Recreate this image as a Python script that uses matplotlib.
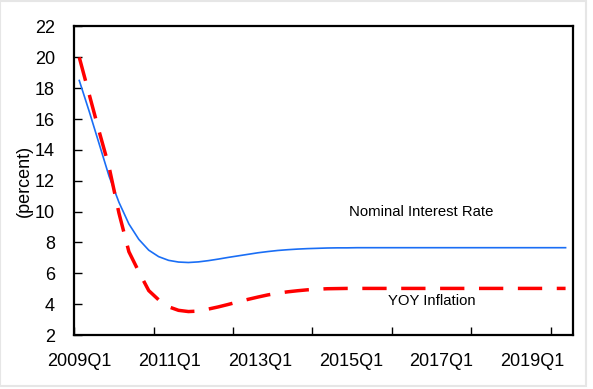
import numpy as np
import matplotlib
matplotlib.use('Agg')
import matplotlib.pyplot as plt
from matplotlib.patches import Rectangle

# quarterly paths, 2009Q1 onwards
interest = [18.5, 16.5, 14.4, 12.3, 10.6, 9.2, 8.2, 7.5, 7.08, 6.84,
            6.73, 6.70, 6.74, 6.82, 6.92, 7.03, 7.13, 7.23, 7.33, 7.41,
            7.48, 7.53, 7.57, 7.60, 7.62, 7.64, 7.65, 7.65, 7.66, 7.66,
            7.66, 7.66, 7.66, 7.66, 7.66, 7.66, 7.66, 7.66, 7.66, 7.66,
            7.66, 7.66, 7.66, 7.66, 7.66, 7.66, 7.66, 7.66, 7.66, 7.66]
inflation = [20.0, 17.6, 15.2, 12.9, 9.9, 7.4, 6.1, 4.88, 4.28, 3.83,
             3.60, 3.52, 3.55, 3.68, 3.82, 3.98, 4.15, 4.31, 4.46, 4.60,
             4.71, 4.80, 4.87, 4.93, 4.97, 5.00, 5.01, 5.02, 5.02, 5.02,
             5.02, 5.02, 5.02, 5.02, 5.02, 5.02, 5.02, 5.02, 5.02, 5.02,
             5.02, 5.02, 5.02, 5.02, 5.02, 5.02, 5.02, 5.02, 5.02, 5.02]
xlabels = ['2009Q1', '2011Q1', '2013Q1', '2015Q1', '2017Q1', '2019Q1']

plt.rcParams['font.family'] = ['Liberation Sans', 'DejaVu Sans']

fig = plt.figure(figsize=(5.93, 3.89), dpi=100)
ax = fig.add_axes([0.1253, 0.1388, 0.8410, 0.7931])

x = np.arange(len(interest)) + 0.5
ax.plot(x, interest, color='#1a6ef5', lw=1.2)
ax.plot(x, inflation, color='#ff0000', lw=2.5, dashes=(7.0, 4.2))

ax.set_xlim(0, 50.25)
ax.set_ylim(2, 22)
ax.set_yticks(np.arange(2, 23, 2))

# tick marks every 8 quarters, labels placed like the original
ax.set_xticks(np.arange(0, 49, 8))
ax.set_xticklabels([])
ax.set_xticks(0.5 + 9.12 * np.arange(len(xlabels)), minor=True)
ax.set_xticklabels(xlabels, minor=True)
ax.tick_params(axis='x', which='minor', length=0, pad=13, labelsize=13)
ax.tick_params(axis='x', which='major', direction='in', length=6, width=1)
ax.tick_params(axis='y', direction='in', length=6, width=1, pad=14, labelsize=13)

for s in ax.spines.values():
    s.set_linewidth(1.6)

ax.set_ylabel('(percent)', fontsize=13, labelpad=1)

ax.text(35.0, 10.0, 'Nominal Interest Rate', fontsize=10.7, ha='center', va='center')
ax.text(36.0, 4.2, 'YOY Inflation', fontsize=10.7, ha='center', va='center')

fig.patches.append(Rectangle((0, 0.008), 0.988, 0.99, transform=fig.transFigure,
                             fill=False, edgecolor='#e6e6e6', lw=1.5))

fig.savefig('out.png', dpi=100)
